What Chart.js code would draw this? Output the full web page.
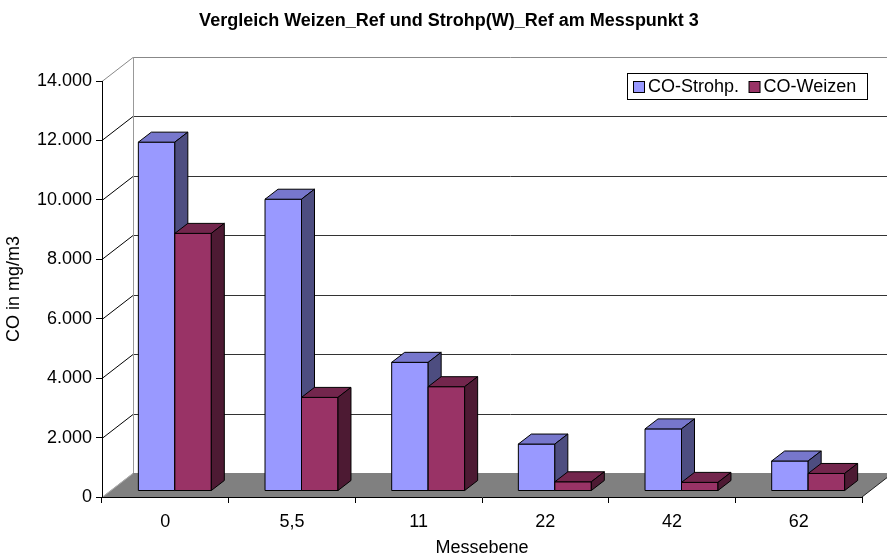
<!DOCTYPE html>
<html>
<head>
<meta charset="utf-8">
<script src="https://cdn.jsdelivr.net/npm/chart.js@4/dist/chart.umd.min.js"></script>
<style>
  html, body { margin: 0; padding: 0; background: #fff; }
  #wrap { width: 887px; height: 557px; }
</style>
</head>
<body>
<div id="wrap"><canvas id="chart" width="887" height="557"></canvas></div>
<script>
// Daten
const categories = ['0', '5,5', '11', '22', '42', '62'];
const coStrohp = [11740, 9820, 4330, 1580, 2090, 1010];
const coWeizen = [8670, 3150, 3510, 310, 290, 590];
const yTicks = [0, 2000, 4000, 6000, 8000, 10000, 12000, 14000];
const chartTitle = 'Vergleich Weizen_Ref und Strohp(W)_Ref am Messpunkt 3';

const FONT = "'Liberation Sans', Arial, sans-serif";

// 3D-Tiefe
const DX = 31, DY = -24;      // Wand / Boden
const SX = 9.5, SY = -6;      // Lage der Säulen in der Tiefe
const BX = 13, BY = -10;      // Säulentiefe

function fmt(v) {
  return String(v).replace(/\B(?=(\d{3})+(?!\d))/g, '.');
}

function line(ctx, x1, y1, x2, y2, color) {
  ctx.strokeStyle = color;
  ctx.beginPath();
  ctx.moveTo(x1, y1);
  ctx.lineTo(x2, y2);
  ctx.stroke();
}

function poly(ctx, pts, fill) {
  ctx.beginPath();
  ctx.moveTo(pts[0][0], pts[0][1]);
  for (let i = 1; i < pts.length; i++) ctx.lineTo(pts[i][0], pts[i][1]);
  ctx.closePath();
  ctx.fillStyle = fill;
  ctx.fill();
  ctx.stroke();
}

const threeD = {
  id: 'threeD',
  beforeDraw(chart) {
    const { ctx, chartArea: a, scales: { y } } = chart;
    ctx.save();
    ctx.fillStyle = '#fff';
    ctx.fillRect(0, 0, chart.width, chart.height);
    ctx.lineWidth = 1;

    // Boden
    ctx.fillStyle = '#808080';
    ctx.beginPath();
    ctx.moveTo(a.left, a.bottom);
    ctx.lineTo(a.right, a.bottom);
    ctx.lineTo(a.right + DX, a.bottom + DY);
    ctx.lineTo(a.left + DX, a.bottom + DY);
    ctx.closePath();
    ctx.fill();
    line(ctx, a.right, a.bottom, a.right + DX, a.bottom + DY, '#222');

    // Gitternetz an Seiten- und Rückwand
    yTicks.forEach(v => {
      const py = Math.round(y.getPixelForValue(v)) + 0.5;
      const top = v === yTicks[yTicks.length - 1];
      if (v === 0) {
        line(ctx, a.left, py, a.left + DX, py + DY, '#b0b0b0');
        return;
      }
      line(ctx, a.left, py, a.left + DX, py + DY, top ? '#888' : '#000');
      line(ctx, a.left + DX, py + DY, a.right + DX, py + DY, top ? '#888' : '#333');
    });
    const bx = Math.round(a.left + DX) + 0.5;
    line(ctx, bx, y.getPixelForValue(14000) + DY, bx, y.getPixelForValue(0) + DY, '#999');
    ctx.restore();
  },
  beforeDatasetDraw() {
    return false;
  },
  afterDatasetsDraw(chart) {
    const { ctx } = chart;
    ctx.save();
    ctx.lineWidth = 1;
    ctx.strokeStyle = '#000';
    categories.forEach((c, i) => {
      chart.data.datasets.forEach((ds, d) => {
        const el = chart.getDatasetMeta(d).data[i];
        const { x, y, base, width } = el.getProps(['x', 'y', 'base', 'width'], true);
        const l = x - width / 2 + SX, r = x + width / 2 + SX;
        const t = y + SY, b = base + SY;
        poly(ctx, [[l, t], [r, t], [r, b], [l, b]], ds.backgroundColor);
        poly(ctx, [[l, t], [r, t], [r + BX, t + BY], [l + BX, t + BY]], ds.topColor);
        poly(ctx, [[r, t], [r + BX, t + BY], [r + BX, b + BY], [r, b]], ds.sideColor);
      });
    });
    ctx.restore();
  },
  afterDraw(chart) {
    const { ctx } = chart;
    ctx.save();
    // Titel
    ctx.fillStyle = '#000';
    ctx.font = 'bold 18px ' + FONT;
    ctx.textAlign = 'center';
    ctx.textBaseline = 'middle';
    ctx.fillText(chartTitle, 449, 21);

    // Legende
    ctx.textAlign = 'left';
    ctx.lineWidth = 1;
    ctx.strokeStyle = '#000';
    ctx.fillStyle = '#fff';
    ctx.fillRect(627.5, 73.5, 240, 26);
    ctx.strokeRect(627.5, 73.5, 240, 26);
    ctx.font = '18px ' + FONT;
    let lx = 633.5;
    chart.data.datasets.forEach(ds => {
      ctx.fillStyle = ds.backgroundColor;
      ctx.fillRect(lx, 81.5, 11, 11);
      ctx.strokeRect(lx, 81.5, 11, 11);
      ctx.fillStyle = '#000';
      ctx.fillText(ds.label, lx + 14.5, 87);
      lx += 14.5 + ctx.measureText(ds.label).width + 10;
    });
    ctx.restore();
  }
};

new Chart(document.getElementById('chart'), {
  type: 'bar',
  data: {
    labels: categories,
    datasets: [
      { label: 'CO-Strohp.', data: coStrohp, backgroundColor: '#9999FF', topColor: '#7777CC', sideColor: '#4D4D80' },
      { label: 'CO-Weizen', data: coWeizen, backgroundColor: '#993366', topColor: '#73264D', sideColor: '#4D1A33' }
    ]
  },
  options: {
    responsive: false,
    devicePixelRatio: 1,
    animation: false,
    layout: { padding: { left: 0, right: 25, top: 81, bottom: 0 } },
    datasets: { bar: { categoryPercentage: 0.576, barPercentage: 1 } },
    plugins: {
      legend: { display: false },
      tooltip: { enabled: false },
      title: { display: false }
    },
    scales: {
      x: {
        afterFit(s) { s.height = 60; },
        grid: { offset: true, drawOnChartArea: false, drawTicks: true, tickLength: 6, color: '#000' },
        border: { display: true, color: '#000' },
        ticks: { color: '#000', padding: 8, font: { family: FONT, size: 18 } },
        title: { display: true, text: 'Messebene', color: '#000', padding: 0, font: { family: FONT, size: 18, lineHeight: 1.05 } }
      },
      y: {
        min: 0,
        max: 14000,
        afterFit(s) { s.width = 102; },
        afterBuildTicks(s) { s.ticks = yTicks.map(v => ({ value: v })); },
        grid: { drawOnChartArea: false, drawTicks: true, tickLength: 6, color: '#000' },
        border: { display: true, color: '#000' },
        ticks: { color: '#000', padding: 4, font: { family: FONT, size: 18 }, callback: v => fmt(v) },
        title: { display: true, text: 'CO in mg/m3', color: '#000', padding: { top: 3, bottom: 0 }, font: { family: FONT, size: 18, lineHeight: 1.2 } }
      }
    }
  },
  plugins: [threeD]
});
</script>
</body>
</html>
